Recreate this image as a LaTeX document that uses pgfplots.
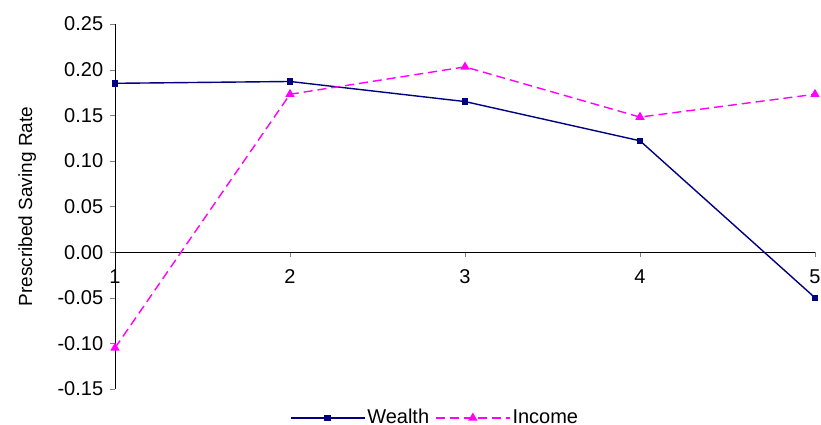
\documentclass[border=0pt]{standalone}
\usepackage{pgfplots}
\pgfplotsset{compat=1.18}
\usepackage{fontspec}
\setmainfont{Liberation Sans}
\definecolor{wcol}{RGB}{0,0,128}
\definecolor{icol}{RGB}{255,0,255}
\begin{document}
\fontsize{20}{24}\selectfont
\begin{tikzpicture}
\begin{axis}[
  scale only axis, width=700pt, height=365pt,
  xmin=1, xmax=5, ymin=-0.15, ymax=0.25,
  axis x line*=middle, axis y line*=left,
  hide obscured x ticks=false,
  xtick={1,2,3,4,5}, ytick={-0.15,-0.10,...,0.26},
  yticklabel style={/pgf/number format/.cd, fixed, fixed zerofill, precision=2},
  /pgf/number format/assume math mode=true,
  tick align=outside, major tick length=5pt,
  x tick label style={yshift=-6pt},
  ticklabel style={font=\fontsize{20}{24}\selectfont},
  ylabel={Prescribed Saving Rate}, ylabel style={font=\fontsize{19}{22}\selectfont, yshift=8pt},
  legend style={at={(rel axis cs:0.5,0)}, anchor=north, yshift=-16pt, xshift=-30pt, draw=none, legend columns=2, font=\fontsize{20}{24}\selectfont, /tikz/every even column/.append style={column sep=4pt}},
  legend image code/.code={
    \draw[mark repeat=2,mark phase=2] plot coordinates {(0cm,0cm) (1.3cm,0cm) (2.6cm,0cm)};
  },
  clip=false,
]
\addplot[wcol, line width=1.4pt, mark=square*, mark size=2.5pt] coordinates {(1,0.185)(2,0.187)(3,0.165)(4,0.122)(5,-0.050)};
\addlegendentry{Wealth}
\addplot[icol, line width=1.4pt, dash pattern=on 9pt off 5pt, mark=triangle*, mark size=4pt, mark options={solid}] coordinates {(1,-0.105)(2,0.173)(3,0.203)(4,0.148)(5,0.173)};
\addlegendentry{Income}
\end{axis}
\pgfresetboundingbox
\useasboundingbox (-115pt,-36pt) rectangle (706pt,389pt);
\end{tikzpicture}
\end{document}
